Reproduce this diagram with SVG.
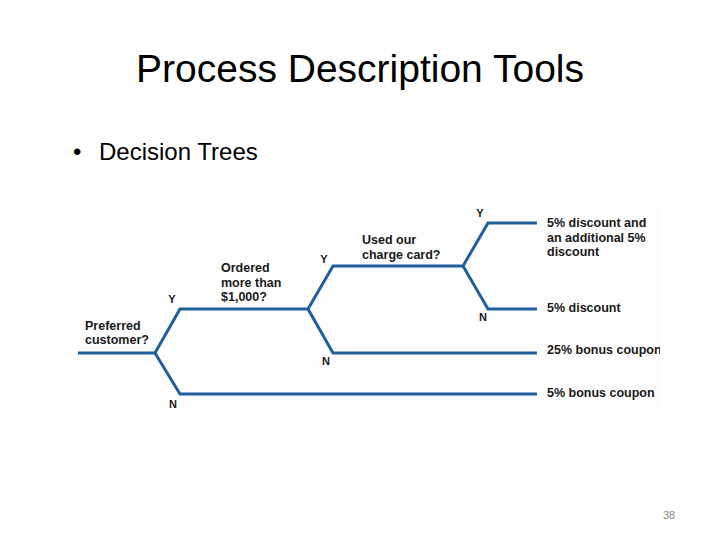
<svg xmlns="http://www.w3.org/2000/svg" width="720" height="540" viewBox="0 0 720 540">
  <style>
    .title { font-family: "Liberation Sans", Arial, sans-serif; font-size: 39px; fill: #000; }
    .bullet { font-family: "Liberation Sans", Arial, sans-serif; font-size: 24px; fill: #000; }
    .lbl { font-family: "Liberation Sans", Arial, sans-serif; font-size: 12.5px; font-weight: bold; fill: #1a1a1a; }
    .yn { font-family: "Liberation Sans", Arial, sans-serif; font-size: 11px; font-weight: bold; fill: #1a1a1a; text-anchor: middle; }
    .edge { fill: none; stroke: #1f5f9c; stroke-width: 3; stroke-linejoin: miter; }
    .pg { font-family: "Liberation Sans", Arial, sans-serif; font-size: 11px; fill: #888; }
  </style>
  <defs>
    <clipPath id="imgclip"><rect x="78" y="207" width="582" height="202"/></clipPath>
  </defs>
  <rect width="720" height="540" fill="#fff"/>
  <text class="title" x="360" y="82" text-anchor="middle">Process Description Tools</text>
  <text class="bullet" x="73" y="160">•</text>
  <text class="bullet" x="99" y="160">Decision Trees</text>
  <g clip-path="url(#imgclip)">
    <rect x="78" y="207" width="582" height="202" fill="#fdfdfd"/>
    <g id="connectors">
      <path class="edge" d="M78 353 H155 L180 309 H308 L333 266 H463 L488 223 H537"/>
      <path class="edge" d="M155 353 L180 394 H537"/>
      <path class="edge" d="M308 309 L333 353 H537"/>
      <path class="edge" d="M463 266 L488 309 H537"/>
    </g>
    <g id="node-preferred">
      <text class="lbl" x="85" y="330">Preferred</text>
      <text class="lbl" x="85" y="344">customer?</text>
      <text class="yn" x="172" y="303">Y</text>
      <text class="yn" x="173" y="408">N</text>
    </g>
    <g id="node-ordered">
      <text class="lbl" x="221" y="272">Ordered</text>
      <text class="lbl" x="221" y="287">more than</text>
      <text class="lbl" x="221" y="301">$1,000?</text>
      <text class="yn" x="324" y="263">Y</text>
      <text class="yn" x="326" y="365">N</text>
    </g>
    <g id="node-charge">
      <text class="lbl" x="362" y="244">Used our</text>
      <text class="lbl" x="362" y="259">charge card?</text>
      <text class="yn" x="480" y="217">Y</text>
      <text class="yn" x="483" y="321">N</text>
    </g>
    <g id="outcome-1">
      <text class="lbl" x="547" y="227">5% discount and</text>
      <text class="lbl" x="547" y="242">an additional 5%</text>
      <text class="lbl" x="547" y="256">discount</text>
    </g>
    <g id="outcome-2"><text class="lbl" x="547" y="312">5% discount</text></g>
    <g id="outcome-3"><text class="lbl" x="547" y="354">25% bonus coupon</text></g>
    <g id="outcome-4"><text class="lbl" x="547" y="397">5% bonus coupon</text></g>
  </g>
  <text class="pg" x="663" y="519">38</text>
</svg>
